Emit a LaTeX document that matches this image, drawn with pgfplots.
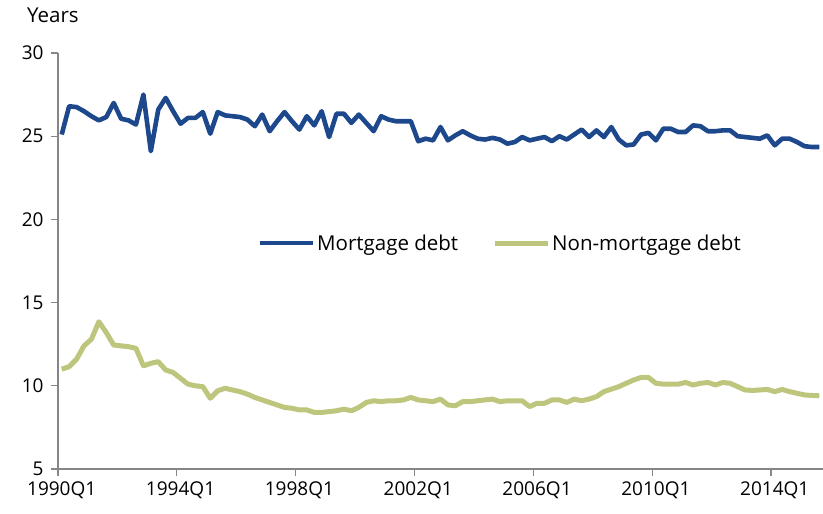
\documentclass[border=0pt]{standalone}
\usepackage{pgfplots}
\pgfplotsset{compat=1.18}
\usepackage{pgfplotstable}
\usepackage{fontspec}
\setmainfont{Open Sans}
\usetikzlibrary{calc}
\definecolor{mblue}{RGB}{30,72,140}
\definecolor{ngreen}{RGB}{190,197,125}
\definecolor{axgray}{RGB}{134,134,134}

\pgfplotstableread{
i mort nonmort
0 25.1 11.0
1 26.8 11.15
2 26.75 11.6
3 26.5 12.4
4 26.2 12.8
5 25.95 13.85
6 26.15 13.2
7 27.0 12.45
8 26.05 12.4
9 25.95 12.35
10 25.7 12.25
11 27.5 11.2
12 24.1 11.35
13 26.6 11.45
14 27.3 10.95
15 26.5 10.8
16 25.75 10.45
17 26.1 10.1
18 26.1 10.0
19 26.45 9.95
20 25.15 9.25
21 26.45 9.7
22 26.25 9.85
23 26.2 9.75
24 26.15 9.65
25 26.0 9.5
26 25.6 9.3
27 26.3 9.15
28 25.3 9.0
29 25.9 8.85
30 26.45 8.7
31 25.9 8.65
32 25.4 8.55
33 26.2 8.55
34 25.65 8.4
35 26.5 8.4
36 24.95 8.45
37 26.35 8.5
38 26.35 8.6
39 25.8 8.5
40 26.3 8.7
41 25.8 9.0
42 25.3 9.1
43 26.2 9.05
44 26.0 9.1
45 25.9 9.1
46 25.9 9.15
47 25.9 9.3
48 24.7 9.15
49 24.85 9.1
50 24.75 9.05
51 25.55 9.2
52 24.75 8.85
53 25.05 8.8
54 25.3 9.05
55 25.05 9.05
56 24.85 9.1
57 24.8 9.15
58 24.9 9.2
59 24.8 9.05
60 24.55 9.1
61 24.65 9.1
62 24.95 9.1
63 24.75 8.75
64 24.85 8.95
65 24.95 8.95
66 24.7 9.15
67 25.0 9.15
68 24.8 9.0
69 25.1 9.2
70 25.4 9.1
71 24.95 9.2
72 25.35 9.35
73 24.95 9.65
74 25.55 9.8
75 24.8 9.95
76 24.45 10.15
77 24.5 10.35
78 25.1 10.5
79 25.2 10.5
80 24.75 10.15
81 25.45 10.1
82 25.45 10.1
83 25.25 10.1
84 25.25 10.2
85 25.65 10.05
86 25.6 10.15
87 25.3 10.2
88 25.3 10.05
89 25.35 10.2
90 25.35 10.15
91 25.0 9.95
92 24.95 9.75
93 24.9 9.72
94 24.85 9.75
95 25.05 9.78
96 24.45 9.65
97 24.85 9.78
98 24.85 9.65
99 24.65 9.55
100 24.4 9.45
101 24.35 9.42
102 24.35 9.4
}\datatable

\begin{document}
\begin{tikzpicture}
\begin{axis}[name=ax, scale only axis, width=765bp, height=416bp,
  xmin=-0.5, xmax=102.5, ymin=5, ymax=30,
  axis x line*=bottom, axis y line*=left,
  axis line style={axgray, line width=1.3bp, -},
  tick align=outside, major tick length=7bp,
  tick style={axgray, line width=1.3bp},
  font=\fontsize{19bp}{23bp}\selectfont,
  /pgf/number format/assume math mode=true,
  ytick={5,10,...,30},
  xtick={-0.5,15.5,31.5,47.5,63.5,79.5,95.5},
  xticklabels={1990Q1,1994Q1,1998Q1,2002Q1,2006Q1,2010Q1,2014Q1},
  xticklabel style={xshift=3.7bp, yshift=-2bp},
  yticklabel style={xshift=-4bp},
  legend columns=2,
  legend style={draw=none, fill=none, at={(0.578,0.543)}, anchor=center,
    font=\fontsize{20.5bp}{24bp}\selectfont,
    /tikz/every even column/.append style={column sep=32bp}},
  legend image code/.code={\draw[#1] (0bp,0bp) -- (53bp,0bp);},
]
\addplot[mblue, line width=4.6bp, line join=round] table[x=i, y=mort] {\datatable};
\addlegendentry{Mortgage debt}
\addplot[ngreen, line width=5bp, line join=round] table[x=i, y=nonmort] {\datatable};
\addlegendentry{Non-mortgage debt}
\end{axis}
\node[font=\fontsize{20.5bp}{24bp}\selectfont] at ($(ax.north west)+(-5bp,38bp)$) {Years};
\pgfresetboundingbox
\path ($(ax.south west)+(-58bp,-45bp)$) rectangle ($(ax.north east)+(0bp,53bp)$);
\end{tikzpicture}
\end{document}
